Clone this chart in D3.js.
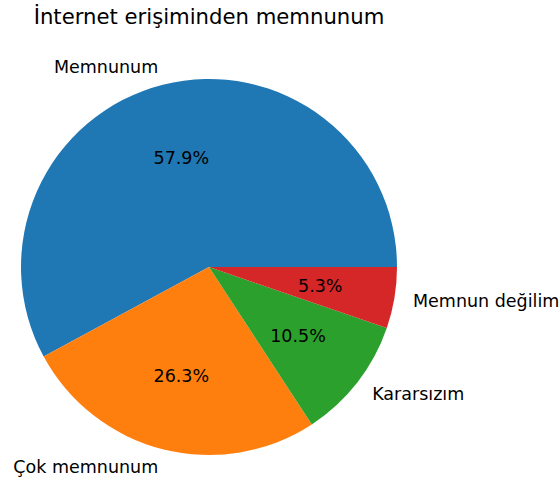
<!DOCTYPE html>
<html>
<head>
<meta charset="utf-8">
<script src="https://cdn.jsdelivr.net/npm/d3@7"></script>
<style>
  html, body { margin: 0; padding: 0; background: #fff; }
  svg { display: block; }
  text { font-family: "DejaVu Sans", sans-serif; fill: #000; }
</style>
</head>
<body>
<div id="chart"></div>
<script>
// Survey responses: "İnternet erişiminden memnunum"
const categories = ["Memnunum", "Çok memnunum", "Kararsızım", "Memnun değilim"];
const counts = [11, 5, 2, 1];
const colors = ["#1f77b4", "#ff7f0e", "#2ca02c", "#d62728"];
const title = "İnternet erişiminden memnunum";

const W = 560, H = 484;
const cx = 209, cy = 267, R = 188;

const svg = d3.select("#chart").append("svg")
  .attr("width", W).attr("height", H);

const data = categories.map((c, i) => ({ label: c, value: counts[i], color: colors[i] }));
const total = d3.sum(counts);

// Start at 3 o'clock and run counter-clockwise
const pie = d3.pie()
  .value(d => d.value)
  .sort(null)
  .startAngle(Math.PI / 2)
  .endAngle(Math.PI / 2 - 2 * Math.PI);

const arcs = pie(data);
const arc = d3.arc().innerRadius(0).outerRadius(R);

const g = svg.append("g").attr("transform", `translate(${cx},${cy})`);

g.selectAll("path.slice")
  .data(arcs)
  .join("path")
  .attr("class", "slice")
  .attr("d", arc)
  .attr("fill", d => d.data.color);

// position along the mid-angle at a fraction of the radius
function pos(d, f) {
  const a = (d.startAngle + d.endAngle) / 2;
  return [Math.sin(a) * R * f, -Math.cos(a) * R * f];
}

g.selectAll("text.label")
  .data(arcs)
  .join("text")
  .attr("class", "label")
  .attr("x", d => pos(d, 1.1)[0])
  .attr("y", d => pos(d, 1.1)[1])
  .attr("text-anchor", d => pos(d, 1.1)[0] >= 0 ? "start" : "end")
  .attr("dominant-baseline", "central")
  .style("font-size", "17.5px")
  .text(d => d.data.label);

g.selectAll("text.pct")
  .data(arcs)
  .join("text")
  .attr("class", "pct")
  .attr("x", d => pos(d, 0.6)[0])
  .attr("y", d => pos(d, 0.6)[1])
  .attr("text-anchor", "middle")
  .attr("dominant-baseline", "central")
  .style("font-size", "17.5px")
  .text(d => (d.data.value / total * 100).toFixed(1) + "%");

svg.append("text")
  .attr("x", cx)
  .attr("y", 24)
  .attr("text-anchor", "middle")
  .style("font-size", "21.2px")
  .text(title);
</script>
</body>
</html>
